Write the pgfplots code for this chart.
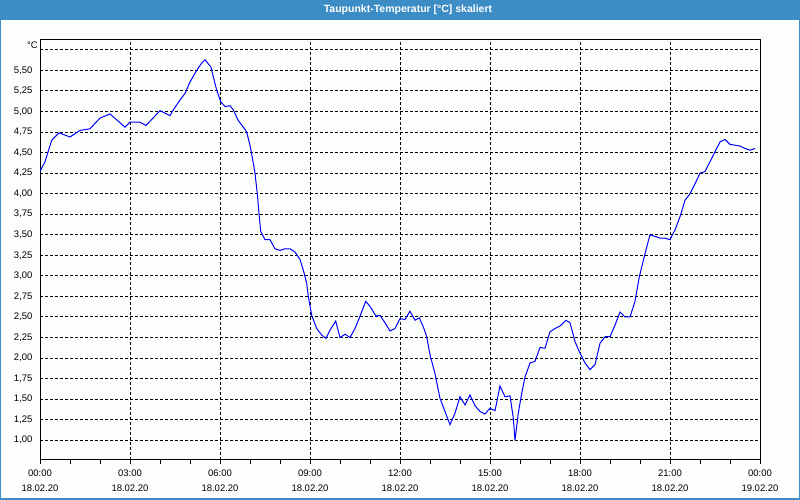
\documentclass[border=0pt]{standalone}
\usepackage{fontspec}
\setmainfont{Liberation Sans}
\usepackage{pgfplots}
\pgfplotsset{compat=1.18}
\usetikzlibrary{backgrounds}
\definecolor{barblue}{RGB}{60,141,198}
\definecolor{bgwhite}{RGB}{252,254,252}
\begin{document}
\begin{tikzpicture}
\begin{axis}[
  name=ax,
  scale only axis, width=720pt, height=420pt,
  xmin=0, xmax=24, ymin=0.76, ymax=5.87,
  axis line style={black, line width=1pt},
  xtick={0,3,...,24},
  minor xtick={1,2,4,5,7,8,10,11,13,14,16,17,19,20,22,23},
  xtick pos=bottom, ytick pos=left,
  xticklabels={{00:00\\18.02.20},{03:00\\18.02.20},{06:00\\18.02.20},{09:00\\18.02.20},{12:00\\18.02.20},{15:00\\18.02.20},{18:00\\18.02.20},{21:00\\18.02.20},{00:00\\19.02.20}},
  xticklabel style={align=center, font=\fontsize{9.5}{15}\selectfont, yshift=-2pt},
  ytick={1,1.25,1.5,1.75,2,2.25,2.5,2.75,3,3.25,3.5,3.75,4,4.25,4.5,4.75,5,5.25,5.5,5.75},
  yticklabels={{1,00},{1,25},{1,50},{1,75},{2,00},{2,25},{2,50},{2,75},{3,00},{3,25},{3,50},{3,75},{4,00},{4,25},{4,50},{4,75},{5,00},{5,25},{5,50},{}},
  yticklabel style={font=\fontsize{9.5}{11}\selectfont},
  tick align=outside,
  major tick length=4pt, minor tick length=4pt,
  xtick style={black, line width=1pt},
  minor tick style={black, line width=1pt},
  ytick style={draw=none},
  xmajorgrids, ymajorgrids,
  major grid style={black, line width=1pt, dash pattern=on 3pt off 2pt},
  clip=true,
]
\addplot[blue, line width=1pt] coordinates {
(0.000,4.27) (0.167,4.39) (0.39,4.65) (0.633,4.74) (1.0,4.69) (1.333,4.77)
(1.667,4.79) (2.0,4.92) (2.333,4.97) (2.833,4.81) (3.0,4.87) (3.333,4.87)
(3.533,4.83) (4.0,5.01) (4.333,4.95) (4.443,5.02) (4.667,5.14) (4.833,5.22)
(5.0,5.36) (5.223,5.50) (5.39,5.59) (5.5,5.63) (5.61,5.58) (5.7,5.54)
(5.777,5.42) (5.89,5.26) (6.023,5.12) (6.167,5.06) (6.333,5.07) (6.443,5.02)
(6.61,4.89) (6.777,4.81) (6.89,4.75) (7.0,4.59) (7.09,4.41) (7.167,4.25)
(7.243,4.00) (7.3,3.76) (7.357,3.54) (7.5,3.44) (7.667,3.44) (7.833,3.33)
(8.0,3.31) (8.167,3.33) (8.333,3.33) (8.5,3.29) (8.667,3.20) (8.777,3.07)
(8.89,2.91) (8.943,2.75) (9.057,2.52) (9.223,2.36) (9.39,2.28) (9.533,2.24)
(9.667,2.34) (9.857,2.45) (10.0,2.25) (10.167,2.29) (10.333,2.25) (10.5,2.36)
(10.667,2.51) (10.857,2.69) (11.0,2.63) (11.2,2.51) (11.333,2.52) (11.5,2.43)
(11.667,2.33) (11.833,2.36) (12.0,2.48) (12.167,2.47) (12.333,2.57) (12.5,2.46)
(12.643,2.49) (12.777,2.38) (12.89,2.26) (13.0,2.04) (13.167,1.81) (13.333,1.51)
(13.5,1.35) (13.667,1.19) (13.833,1.33) (14.0,1.53) (14.167,1.43) (14.333,1.55)
(14.5,1.42) (14.667,1.35) (14.833,1.32) (15.0,1.39) (15.167,1.36) (15.333,1.66)
(15.5,1.53) (15.667,1.54) (15.777,1.27) (15.833,1.00) (15.943,1.33) (16.057,1.57)
(16.167,1.77) (16.333,1.94) (16.5,1.96) (16.667,2.13) (16.833,2.12) (17.0,2.32)
(17.167,2.36) (17.333,2.39) (17.533,2.46) (17.667,2.43) (17.833,2.20) (18.0,2.06)
(18.167,1.94) (18.333,1.86) (18.5,1.92) (18.667,2.18) (18.833,2.26) (19.0,2.26)
(19.167,2.40) (19.333,2.56) (19.5,2.50) (19.667,2.50) (19.833,2.69) (19.977,2.99)
(20.167,3.27) (20.333,3.50) (20.5,3.48) (20.667,3.46) (20.833,3.46) (21.0,3.44)
(21.167,3.56) (21.333,3.72) (21.5,3.92) (21.667,4.00) (21.833,4.12) (22.0,4.25)
(22.167,4.27) (22.333,4.39) (22.5,4.51) (22.667,4.63) (22.833,4.66) (23.0,4.60)
(23.167,4.59) (23.333,4.58) (23.5,4.55) (23.667,4.53) (23.833,4.55)
};
\end{axis}
\begin{scope}[on background layer]
\fill[barblue] ([shift={(-40pt,-40pt)}]ax.south west) rectangle ([shift={(40pt,40pt)}]ax.north east);
\fill[bgwhite] ([shift={(-38.5pt,-38pt)}]ax.south west) rectangle ([shift={(38.5pt,20pt)}]ax.north east);
\end{scope}
\node[text=white,font=\bfseries\fontsize{10.5}{12}\selectfont] at ([shift={(8pt,30.5pt)}]ax.north) {Taupunkt-Temperatur [°C] skaliert};
\node[anchor=east,font=\fontsize{9.5}{11}\selectfont,inner sep=0pt] at ([shift={(-2pt,-5pt)}]ax.north west) {°C};
\end{tikzpicture}
\end{document}
